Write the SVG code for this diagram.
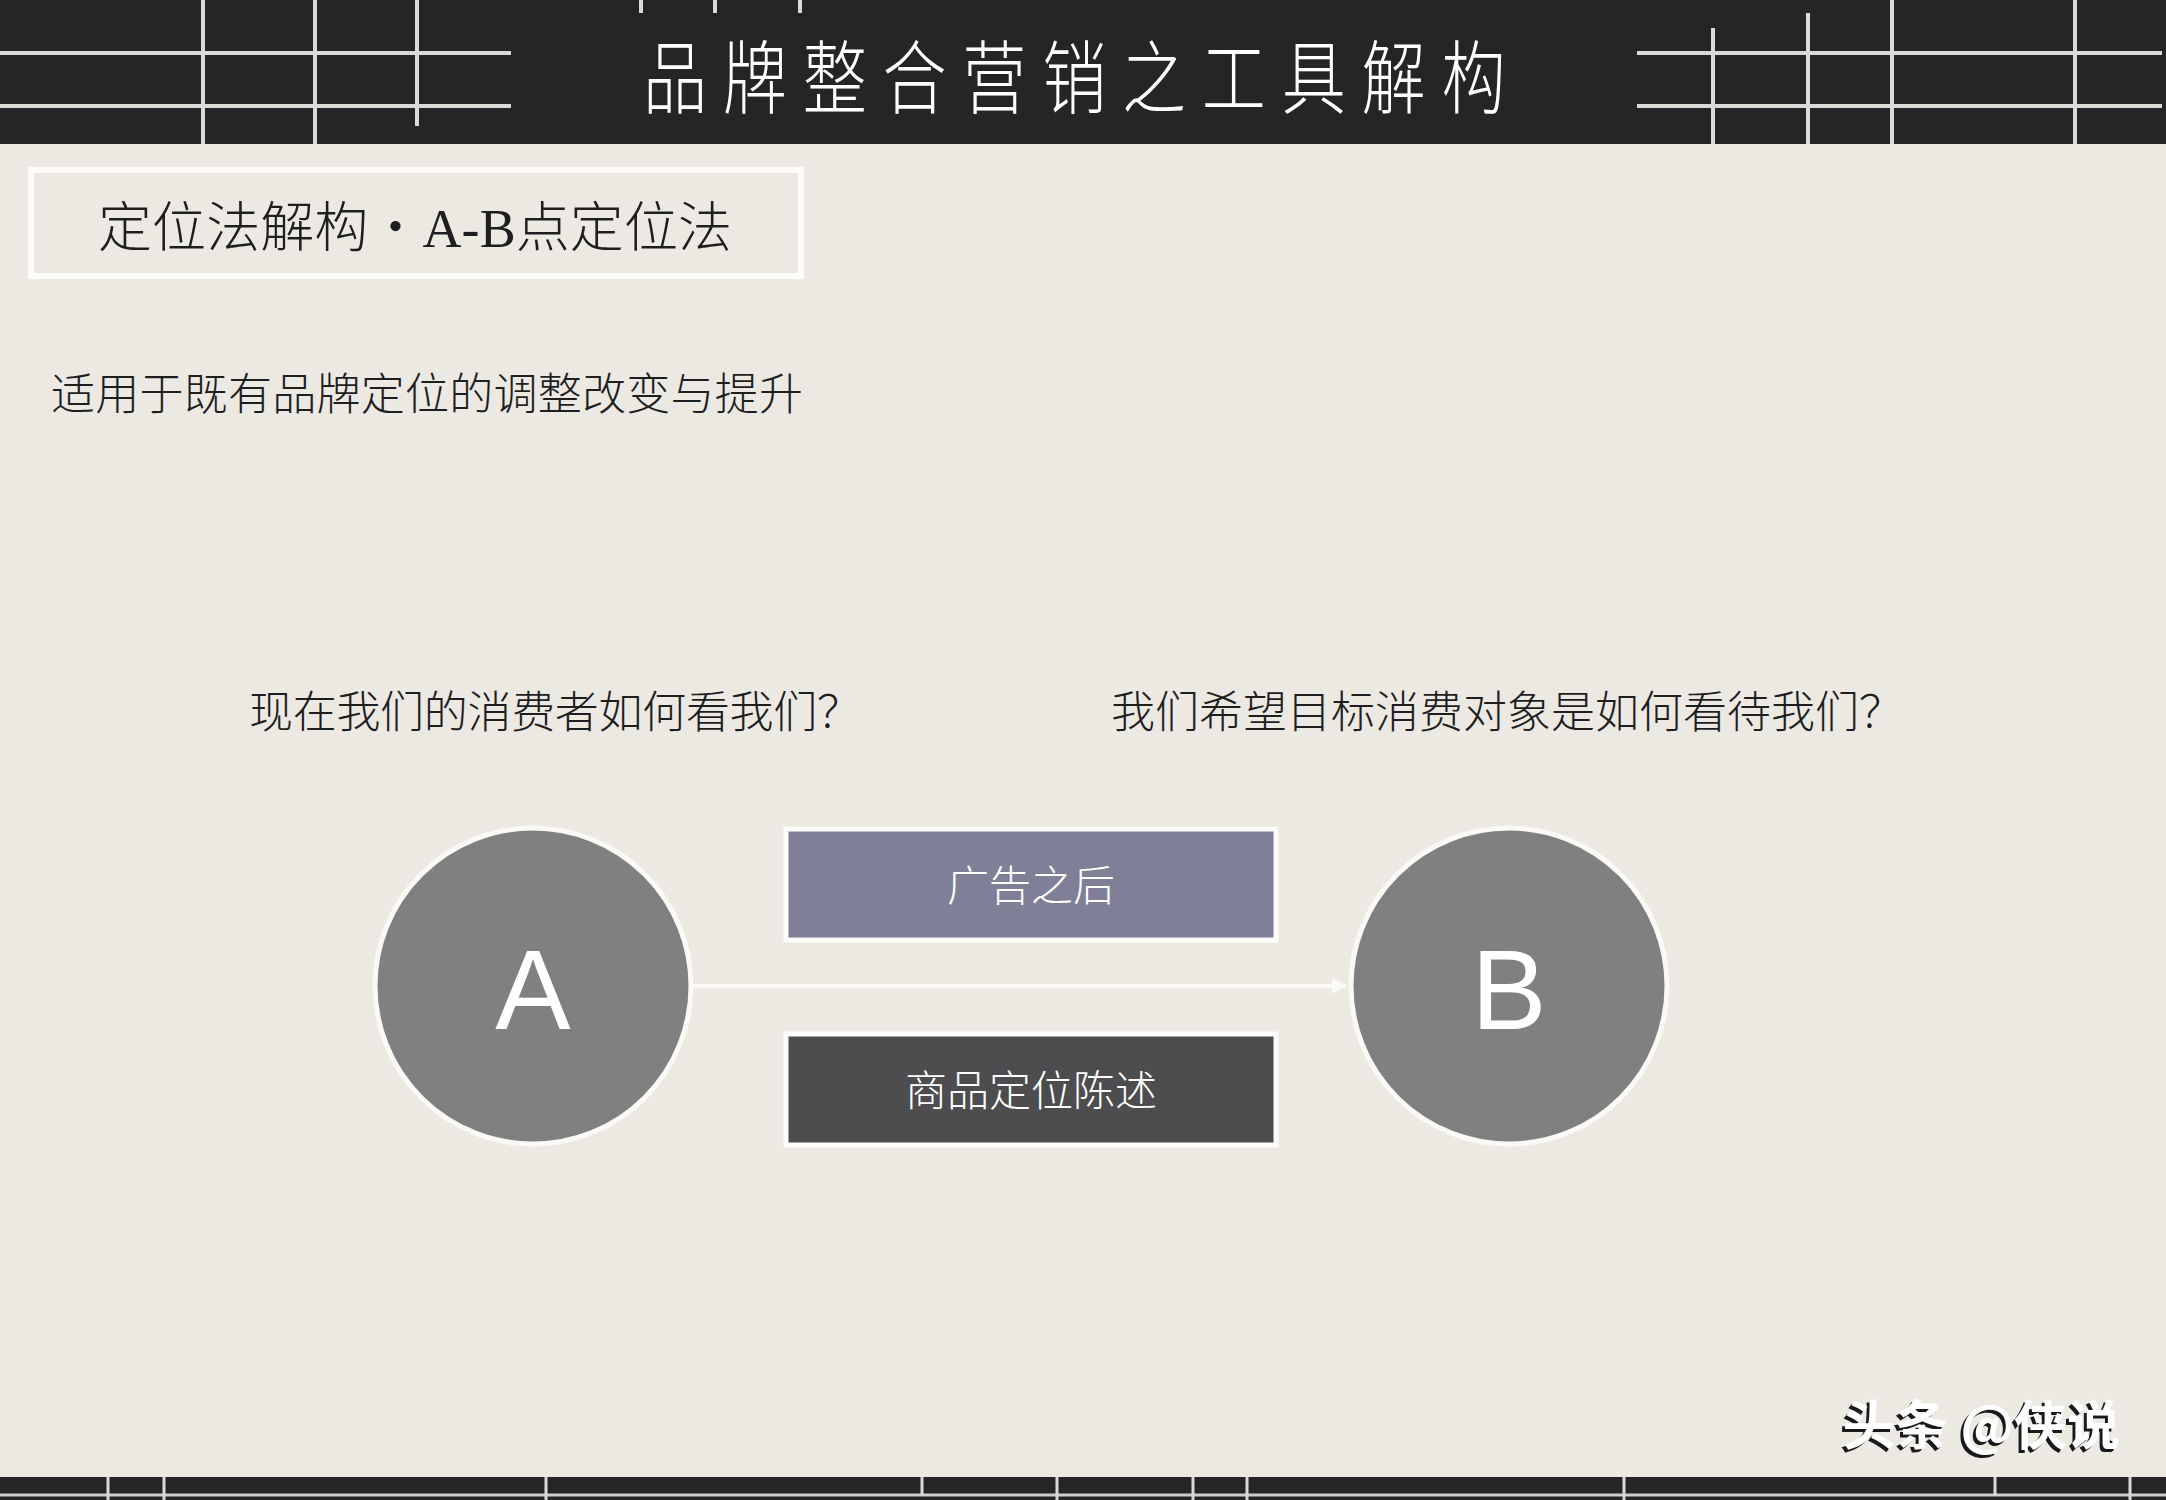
<svg xmlns="http://www.w3.org/2000/svg" width="2166" height="1500" viewBox="0 0 2166 1500">
  <style>
    .grid { stroke: #dcdad6; stroke-width: 4; fill: none; }
    .cjk { font-family: "Noto Sans CJK SC", "Noto Sans", sans-serif; }
    .serif { font-family: "Liberation Serif", "Noto Sans CJK SC", serif; }
    .body { font-size: 44px; fill: #1e1e1e; font-weight: 300; }
    .circle { fill: #808080; stroke: #fbf9f5; stroke-width: 5; }
    .letter { font-family: "Liberation Sans", Arial, sans-serif; font-size: 113px; fill: #ffffff; text-anchor: middle; }
    .boxlabel { font-size: 42px; fill: #ffffff; text-anchor: middle; font-weight: 300; }
    .conn { stroke: #fcfaf6; stroke-width: 4; fill: none; }
  </style>
  <defs>
    <marker id="arrow" viewBox="0 0 10 10" refX="9" refY="5" markerWidth="4" markerHeight="4" orient="auto" markerUnits="strokeWidth">
      <path d="M0,0 L10,5 L0,10 z" fill="#fcfaf6"/>
    </marker>
  </defs>

  <!-- background -->
  <rect x="0" y="0" width="2166" height="1500" fill="#ece9e3"/>

  <!-- header -->
  <g id="header">
    <rect x="0" y="0" width="2166" height="144" fill="#262427"/>
    <line class="grid" x1="0" y1="53" x2="511" y2="53"/>
    <line class="grid" x1="0" y1="106" x2="511" y2="106"/>
    <line class="grid" x1="203" y1="0" x2="203" y2="144"/>
    <line class="grid" x1="315" y1="0" x2="315" y2="144"/>
    <line class="grid" x1="417" y1="0" x2="417" y2="126"/>
    <line class="grid" x1="641" y1="0" x2="641" y2="13"/>
    <line class="grid" x1="715" y1="0" x2="715" y2="13"/>
    <line class="grid" x1="800" y1="0" x2="800" y2="13"/>
    <line class="grid" x1="1637" y1="53" x2="2162" y2="53"/>
    <line class="grid" x1="1637" y1="106" x2="2162" y2="106"/>
    <line class="grid" x1="1713" y1="28" x2="1713" y2="144"/>
    <line class="grid" x1="1808" y1="13" x2="1808" y2="144"/>
    <line class="grid" x1="1892" y1="0" x2="1892" y2="144"/>
    <line class="grid" x1="2075" y1="0" x2="2075" y2="144"/>
    <g transform="translate(643,107) scale(0.8,1)">
      <text class="cjk" x="0" y="0" font-size="80" fill="#ffffff" font-weight="300" textLength="1078" lengthAdjust="spacing">品牌整合营销之工具解构</text>
    </g>
  </g>

  <!-- footer bar -->
  <g id="footer">
    <rect x="0" y="1477" width="2166" height="23" fill="#262427"/>
    <line x1="0" y1="1495" x2="2166" y2="1495" stroke="#cfcdca" stroke-width="3"/>
    <g class="grid" style="stroke-width:3">
      <line x1="108" y1="1477" x2="108" y2="1500"/>
      <line x1="164" y1="1477" x2="164" y2="1500"/>
      <line x1="546" y1="1477" x2="546" y2="1500"/>
      <line x1="922" y1="1477" x2="922" y2="1495"/>
      <line x1="1057" y1="1477" x2="1057" y2="1500"/>
      <line x1="1193" y1="1477" x2="1193" y2="1500"/>
      <line x1="1247" y1="1477" x2="1247" y2="1500"/>
      <line x1="1624" y1="1477" x2="1624" y2="1500"/>
      <line x1="1995" y1="1477" x2="1995" y2="1495"/>
      <line x1="2130" y1="1477" x2="2130" y2="1500"/>
    </g>
  </g>

  <!-- section title box -->
  <g id="section-title">
    <rect x="31" y="170" width="770" height="106" fill="none" stroke="#fdfcfa" stroke-width="6"/>
    <text class="serif" x="98" y="247" font-size="54" font-weight="300" fill="#1e1e1e" textLength="634" lengthAdjust="spacing">定位法解构・A-B点定位法</text>
  </g>

  <text id="subtitle" class="serif body" x="51" y="410" textLength="752" lengthAdjust="spacing">适用于既有品牌定位的调整改变与提升</text>

  <text id="question-a" class="cjk body" x="249" y="728" textLength="612" lengthAdjust="spacing">现在我们的消费者如何看我们？</text>
  <text id="question-b" class="cjk body" x="1111" y="728" textLength="792" lengthAdjust="spacing">我们希望目标消费对象是如何看待我们？</text>

  <!-- connectors -->
  <g id="connectors">
    <line class="conn" x1="692" y1="986" x2="1346" y2="986" marker-end="url(#arrow)"/>
  </g>

  <!-- nodes -->
  <g id="node-a">
    <circle class="circle" cx="533" cy="986" r="158"/>
    <text class="letter" x="533" y="1029">A</text>
  </g>
  <g id="node-b">
    <circle class="circle" cx="1509" cy="986" r="158"/>
    <text class="letter" x="1509" y="1029">B</text>
  </g>
  <g id="box-ad">
    <rect x="786" y="829" width="490" height="111" fill="#7f8098" stroke="#fdfcfa" stroke-width="5"/>
    <text class="cjk boxlabel" x="1031" y="901">广告之后</text>
  </g>
  <g id="box-statement">
    <rect x="786" y="1034" width="490" height="111" fill="#4d4d4f" stroke="#fdfcfa" stroke-width="5"/>
    <text class="cjk boxlabel" x="1031" y="1106">商品定位陈述</text>
  </g>

  <!-- watermark -->
  <g id="watermark" font-family="Noto Sans CJK SC, sans-serif" font-size="53" font-weight="bold" text-anchor="end">
    <text x="2117" y="1448" fill="#1a1a1a">头条 @侠说</text>
    <text x="2120" y="1445" fill="#ffffff">头条 @侠说</text>
  </g>
</svg>
